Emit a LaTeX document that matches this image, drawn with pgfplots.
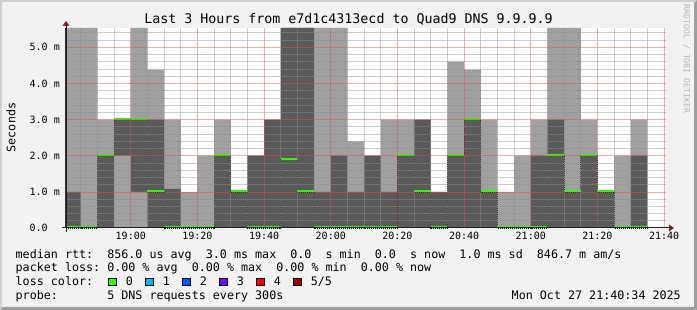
\documentclass[border=0pt]{standalone}
\usepackage{fontspec}
\setmainfont{DejaVu Sans Mono}
\usepackage{pgfplots}
\pgfplotsset{compat=1.18}
\usepackage{pgfplotstable}
\usetikzlibrary{arrows.meta}

\definecolor{bgc}{HTML}{F2F2F2}
\definecolor{shadea}{HTML}{CFCFCF}
\definecolor{shadeb}{HTML}{9E9E9E}
\definecolor{gridc}{rgb}{0.56,0.56,0.56}
\definecolor{mgridc}{rgb}{0.87,0.31,0.31}
\definecolor{arrowc}{rgb}{0.5,0.12,0.12}
\definecolor{axisc}{rgb}{0.12,0.12,0.12}
\definecolor{smokelight}{HTML}{A0A0A0}
\definecolor{smokedark}{HTML}{5A5A5A}
\definecolor{medgreen}{HTML}{26FF00}
\definecolor{lossA}{HTML}{00B8FF}
\definecolor{lossB}{HTML}{0059FF}
\definecolor{lossC}{HTML}{7E00FF}
\definecolor{lossD}{HTML}{FF0000}
\definecolor{lossE}{HTML}{A10000}
\definecolor{wmark}{HTML}{B4B4B4}

\newcommand\titlefont{\fontsize{13.3}{13.3}\selectfont}
\newcommand\legfont{\fontsize{11.7}{11.7}\selectfont}
\newcommand\tickfont{\fontsize{10}{10}\selectfont}

\tikzset{
  mingrid/.style={draw=gridc, draw opacity=0.45, line width=0.7pt},
  majgrid/.style={draw=mgridc, draw opacity=0.45, line width=0.7pt},
}

% x = minutes after 19:00; p2,p4 = inner smoke band, p5 = outer smoke top, med = median (ms)
\pgfplotstableread{
x p2 p4 p5 med
-19.4333 0 1 5.534 0
-15 0 0 5.534 0
-10 0 2 3 2
-5 2 3 3 3
0 1 3 5.534 3
5 0 3 4.38 1
10 0 1.08 3 0
15 0 0 1 0
20 0 0 2 0
25 0 2 3 2
30 0 1 1 1
35 0 2 2 0
40 0 3 3 0
45 0 5.534 5.534 1.9
50 0 5.534 5.534 1
55 0 1 5.534 0
60 0 2 5.534 0
65 0 1 2.4 0
70 0 2 2 0
75 0 1 3 0
80 0 2 3 2
85 0 3 3 1
90 0 1 1 0
95 0 2 4.6 2
100 0 3 4.38 3
105 0 1 3 1
110 0 0 1 0
115 0 0 2 0
120 0 2 3 0
125 0 3 5.534 2
130 0 1 5.534 1
135 0 2 3 2
140 0 1 1 1
145 0 0 2 0
150 0 2 3 0
155 0 0 0 0
}\smoke

\pagecolor{bgc}
\begin{document}
\begin{tikzpicture}
\begin{axis}[
  at={(66pt,82pt)}, anchor=south west,
  scale only axis, width=600pt, height=200pt,
  xmin=-19.4333, xmax=160.5667, ymin=0, ymax=5.534,
  clip=false,
  axis background/.style={fill=white},
  axis x line=bottom, axis y line=left,
  axis line style={-, draw=axisc, line width=1pt},
  xtick={0,20,...,160},
  xticklabels={19:00,19:20,19:40,20:00,20:20,20:40,21:00,21:20,21:40},
  ytick={0,1,2,3,4,5},
  yticklabels={0.0,1.0 m,2.0 m,3.0 m,4.0 m,5.0 m},
  major tick length=0pt,
  xticklabel style={font=\tickfont, anchor=base, inner sep=0pt, yshift=-11.7pt},
  yticklabel style={font=\tickfont, anchor=west, inner sep=0pt, xshift=-36.5pt},
]
\addplot[const plot, fill=smokelight, draw=none] table[x=x, y=p5] {\smoke} \closedcycle;
\addplot[const plot, fill=smokedark, draw=none] table[x=x, y=p4] {\smoke} \closedcycle;
\addplot[const plot, fill=smokelight, draw=none] table[x=x, y=p2] {\smoke} \closedcycle;
\addplot[const plot, draw=black, line width=0.6pt, dash pattern=on 1pt off 1pt] table[x=x, y=med] {\smoke};
\addplot[jump mark left, draw=medgreen, line width=2pt, yshift=0.5pt] table[x=x, y=med] {\smoke};

% grid (drawn over the smoke, as rrdtool does)
\pgfplotsinvokeforeach{-15,-10,-5,5,10,15,25,30,35,45,50,55,65,70,75,85,90,95,105,110,115,125,130,135,145,150,155}{
  \draw[mingrid] (axis cs:#1,0) -- (axis cs:#1,5.534);
}
\pgfplotsinvokeforeach{0.2,0.4,0.6,0.8,1.2,1.4,1.6,1.8,2.2,2.4,2.6,2.8,3.2,3.4,3.6,3.8,4.2,4.4,4.6,4.8,5.2,5.4}{
  \draw[mingrid] (axis cs:-19.4333,#1) -- (axis cs:160.5667,#1);
}
\pgfplotsinvokeforeach{0,20,40,60,80,100,120,140,160}{
  \draw[majgrid] (axis cs:#1,0) -- (axis cs:#1,5.534);
}
\pgfplotsinvokeforeach{1,2,3,4,5}{
  \draw[majgrid] (axis cs:-19.4333,#1) -- (axis cs:160.5667,#1);
}
\end{axis}

% axis line extensions and arrows
\draw[axisc, line width=1pt] (62pt,82pt) -- (670pt,82pt);
\draw[axisc, line width=1pt] (66pt,78pt) -- (66pt,286pt);
\fill[arrowc] (669pt,78.5pt) -- (669pt,85.5pt) -- (674pt,82pt) -- cycle;
\fill[arrowc] (62.5pt,284pt) -- (69.5pt,284pt) -- (66pt,289pt) -- cycle;

% frame
\fill[shadea] (0pt,0pt) -- (0pt,310pt) -- (697pt,310pt) -- (695pt,308pt) -- (2pt,308pt) -- (2pt,2pt) -- cycle;
\fill[shadeb] (0pt,0pt) -- (697pt,0pt) -- (697pt,310pt) -- (694pt,307pt) -- (694pt,3pt) -- (3pt,3pt) -- cycle;

% title, axis label, watermark
\node[font=\titlefont, anchor=base, inner sep=0pt] at (348.5pt,286pt) {Last 3 Hours from e7d1c4313ecd to Quad9 DNS 9.9.9.9};
\node[font=\legfont, rotate=90, inner sep=0pt] at (11pt,182.5pt) {Seconds};
\node[font=\fontsize{8.2}{8.2}\selectfont, text=wmark, rotate=-90, inner sep=0pt] at (686.5pt,251pt) {RRDTOOL / TOBI OETIKER};

% legend
\node[font=\legfont, anchor=base west, inner sep=0pt] at (15.5pt,51.7pt) {median rtt:~~856.0 us avg~~3.0 ms max~~0.0~~s min~~0.0~~s now~~1.0 ms sd~~846.7 m am/s};
\node[font=\legfont, anchor=base west, inner sep=0pt] at (15.5pt,38.1pt) {packet loss:~0.00 \% avg~~0.00 \% max~~0.00 \% min~~0.00 \% now};
\node[font=\legfont, anchor=base west, inner sep=0pt] at (15.5pt,24.5pt) {loss color:};
\node[font=\legfont, anchor=base west, inner sep=0pt] at (15.5pt,10.9pt) {probe:~~~~~~~5 DNS requests every 300s};
\node[font=\legfont, anchor=base east, inner sep=0pt] at (681pt,10.9pt) {Mon Oct 27 21:40:34 2025};

\foreach \c/\t [count=\i from 0] in {medgreen/0, lossA/1, lossB/2, lossC/3, lossD/4, lossE/5\slash 5} {
  \pgfmathsetmacro\bx{108.7+37*\i}
  \filldraw[fill=\c, draw=black, line width=0.6pt] (\bx pt,24.2pt) rectangle ++(7.3pt,7.3pt);
  \node[font=\legfont, anchor=base west, inner sep=0pt] at (\bx pt+17pt,24.5pt) {\t};
}

\pgfresetboundingbox
\path[use as bounding box] (0pt,0pt) rectangle (697pt,310pt);
\end{tikzpicture}
\end{document}
